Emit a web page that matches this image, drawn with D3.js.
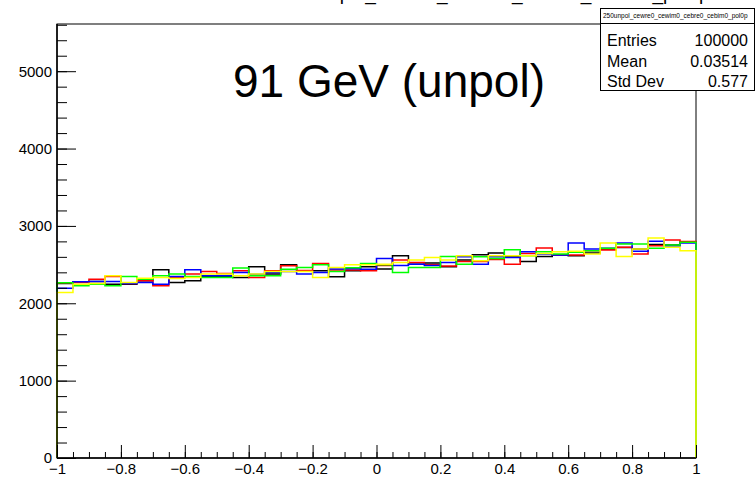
<!DOCTYPE html>
<html>
<head>
<meta charset="utf-8">
<script src="https://cdn.jsdelivr.net/npm/d3@7"></script>
<style>
  body { margin: 0; background: #fff; }
  svg { display: block; font-family: "Liberation Sans", Arial, sans-serif; }
</style>
</head>
<body>
<div id="chart"></div>
<script>
// Bin contents (40 bins over [-1, 1])
const binEdges = d3.range(41).map(i => -1 + i * 0.05);

const blackCounts = [2256, 2277, 2281, 2247, 2247, 2290, 2433, 2268, 2290, 2342,
                     2346, 2333, 2472, 2377, 2498, 2420, 2420, 2342, 2420, 2472,
                     2442, 2615, 2506, 2520, 2472, 2560, 2628, 2649, 2602, 2541,
                     2606, 2623, 2615, 2650, 2701, 2720, 2701, 2760, 2753, 2790];
const redCounts   = [2264, 2270, 2312, 2346, 2256, 2290, 2225, 2333, 2377, 2411,
                     2385, 2420, 2333, 2420, 2485, 2425, 2515, 2430, 2430, 2420,
                     2489, 2558, 2528, 2498, 2481, 2540, 2541, 2567, 2506, 2645,
                     2714, 2623, 2623, 2680, 2690, 2723, 2636, 2745, 2818, 2797];
const blueCounts  = [2195, 2277, 2281, 2281, 2256, 2268, 2247, 2346, 2433, 2355,
                     2355, 2398, 2375, 2398, 2411, 2377, 2398, 2442, 2445, 2440,
                     2580, 2489, 2506, 2489, 2528, 2602, 2506, 2600, 2593, 2667,
                     2636, 2623, 2779, 2701, 2710, 2779, 2671, 2801, 2740, 2779];
const greenCounts = [2265, 2225, 2247, 2225, 2346, 2312, 2355, 2377, 2346, 2333,
                     2333, 2455, 2355, 2355, 2440, 2463, 2498, 2411, 2460, 2515,
                     2498, 2398, 2463, 2463, 2606, 2506, 2602, 2580, 2692, 2615,
                     2667, 2636, 2658, 2680, 2710, 2766, 2766, 2710, 2753, 2790];
const yellowCounts = [2139, 2247, 2256, 2355, 2268, 2325, 2333, 2320, 2333, 2377,
                      2377, 2355, 2377, 2410, 2411, 2411, 2333, 2463, 2498, 2498,
                      2506, 2528, 2558, 2593, 2560, 2615, 2550, 2615, 2615, 2615,
                      2645, 2667, 2671, 2636, 2779, 2606, 2700, 2844, 2723, 2680];

const series = [
  { color: '#000000', counts: blackCounts },
  { color: '#ff0000', counts: redCounts },
  { color: '#0000ff', counts: blueCounts },
  { color: '#00ff00', counts: greenCounts },
  { color: '#ffff00', counts: yellowCounts }
];

const xTicks = [-1, -0.8, -0.6, -0.4, -0.2, 0, 0.2, 0.4, 0.6, 0.8, 1];
const yTicks = [0, 1000, 2000, 3000, 4000, 5000];
const histName = '250unpol_cewre0_cewim0_cebre0_cebim0_pol0p';
const statRows = [['Entries', '100000'], ['Mean', '0.03514'], ['Std Dev', '0.577']];

const width = 755, height = 478;
const frame = { left: 57, right: 696, top: 24, bottom: 458 };

const svg = d3.select('#chart').append('svg')
  .attr('width', width)
  .attr('height', height);

const x = d3.scaleLinear().domain([-1, 1]).range([frame.left, frame.right]);
const y = d3.scaleLinear().domain([0, 5610]).range([frame.bottom, frame.top]);

// Title (almost entirely above the pad, only descenders show)
svg.append('text')
  .attr('x', 287)
  .attr('y', -0.5)
  .style('font-size', '19px')
  .text(histName);

// Frame
svg.append('rect')
  .attr('x', frame.left)
  .attr('y', frame.top)
  .attr('width', frame.right - frame.left)
  .attr('height', frame.bottom - frame.top)
  .attr('fill', 'none')
  .attr('stroke', '#000')
  .attr('stroke-width', 1);

// Histograms
const line = d3.line()
  .x(d => x(d[0]))
  .y(d => y(d[1]))
  .curve(d3.curveStepAfter);

series.forEach(s => {
  const pts = [[-1, 0]];
  s.counts.forEach((c, i) => pts.push([binEdges[i], c]));
  pts.push([1, s.counts[s.counts.length - 1]]);
  pts.push([1, 0]);
  svg.append('path')
    .attr('d', line(pts))
    .attr('fill', 'none')
    .attr('stroke', s.color)
    .attr('stroke-width', 1.5);
});

// Y axis
const yMinor = svg.append('g')
  .attr('transform', `translate(${frame.left},0)`)
  .call(d3.axisLeft(y).tickValues(d3.range(0, 5601, 200)).tickSize(-10).tickFormat(''));
yMinor.select('.domain').remove();

const yAxis = svg.append('g')
  .attr('transform', `translate(${frame.left},0)`)
  .call(d3.axisLeft(y).tickValues(yTicks).tickSizeInner(-19).tickSizeOuter(0).tickPadding(5)
    .tickFormat(d3.format('d')));
yAxis.select('.domain').remove();
yAxis.selectAll('text').style('font-size', '15px').attr('fill', '#000');

// X axis
const xMinor = svg.append('g')
  .attr('transform', `translate(0,${frame.bottom})`)
  .call(d3.axisBottom(x).tickValues(d3.range(-1, 1.001, 0.05)).tickSize(-6).tickFormat(''));
xMinor.select('.domain').remove();

const xAxis = svg.append('g')
  .attr('transform', `translate(0,${frame.bottom})`)
  .call(d3.axisBottom(x).tickValues(xTicks).tickSizeInner(-13).tickSizeOuter(0).tickPadding(5)
    .tickFormat(d => d < 0 ? '\u2212' + String(-d) : String(d)));
xAxis.select('.domain').remove();
xAxis.selectAll('text').style('font-size', '15px').attr('fill', '#000');

svg.append('line')
  .attr('x1', frame.left).attr('x2', frame.left)
  .attr('y1', frame.top).attr('y2', frame.bottom)
  .attr('stroke', '#000').attr('stroke-width', 1.5);
svg.append('line')
  .attr('x1', frame.left).attr('x2', frame.right)
  .attr('y1', frame.bottom).attr('y2', frame.bottom)
  .attr('stroke', '#000').attr('stroke-width', 1.5);

// Label
svg.append('text')
  .attr('x', 233)
  .attr('y', 97)
  .style('font-size', '46px')
  .text('91 GeV (unpol)');

// Stats box
const box = svg.append('g');
box.append('rect')
  .attr('x', 600.5).attr('y', 8.5)
  .attr('width', 154).attr('height', 82)
  .attr('fill', '#fff').attr('stroke', '#000');
box.append('line')
  .attr('x1', 600.5).attr('x2', 755)
  .attr('y1', 23.5).attr('y2', 23.5)
  .attr('stroke', '#000');
box.append('text')
  .attr('x', 603).attr('y', 18)
  .style('font-size', '6.5px')
  .text(histName);
statRows.forEach((r, i) => {
  box.append('text')
    .attr('x', 607).attr('y', 46 + i * 20.5)
    .style('font-size', '16px')
    .text(r[0]);
  box.append('text')
    .attr('x', 748).attr('y', 46 + i * 20.5)
    .attr('text-anchor', 'end')
    .style('font-size', '16px')
    .text(r[1]);
});
</script>
</body>
</html>
